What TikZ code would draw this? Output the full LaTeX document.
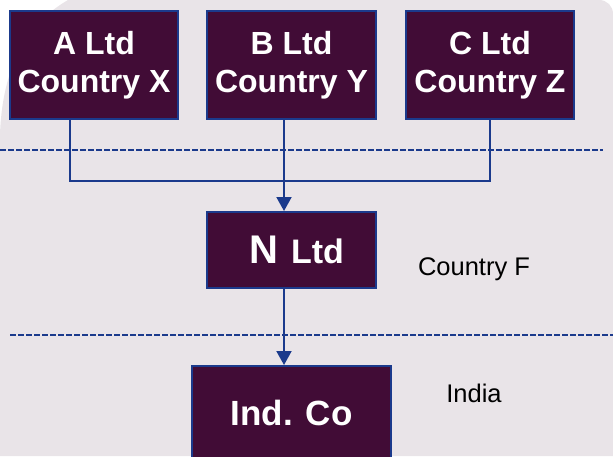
\documentclass[tikz,border=0pt]{standalone}
\usepackage{fontspec}
\setmainfont{Liberation Sans}
\usetikzlibrary{arrows.meta}
\definecolor{pagebg}{HTML}{E9E4E8}
\definecolor{boxfill}{HTML}{410C36}
\definecolor{linkblue}{HTML}{1B3A8C}
\begin{document}
\begin{tikzpicture}[x=1pt,y=-1pt,
  entity/.style={draw=linkblue, line width=2pt, fill=boxfill, text=white,
    font=\bfseries\fontsize{32}{38}\selectfont, align=center, inner sep=0pt,
    minimum width=168pt, minimum height=108pt},
  link/.style={draw=linkblue, line width=2pt},
  feed/.style={link, -{Triangle[length=14pt,width=15pt]}},
  border/.style={draw=linkblue, line width=1.6pt, dash pattern=on 5.5pt off 2.5pt},
  region/.style={font=\fontsize{25.5}{30}\selectfont, text=black, inner sep=0pt}
]
\useasboundingbox (0,0) rectangle (613,456);
% page and the rounded panel behind the chart
\fill[white] (0,0) rectangle (613,456);
\fill[pagebg] (68,0) -- (599,0) .. controls (607,0) and (613,6) .. (613,14)
  -- (613,456) -- (0,456) -- (0,135) .. controls (2,70) and (25,25) .. (68,0) -- cycle;

% jurisdiction separators
\draw[border] (0,150) -- (603,150);
\draw[border] (10,335) -- (613,335);

% shareholders
\node[entity] (A) at (94,65) {A Ltd\\Country X};
\node[entity, minimum width=169pt] (B) at (291.5,65) {B Ltd\\Country Y};
\node[entity] (C) at (490,65) {C Ltd\\Country Z};

% intermediate holding company
\node[entity, minimum width=169pt, minimum height=76pt,
  font=\bfseries\fontsize{34}{40}\selectfont] (N) at (291.5,250)
  {\kern10pt{\fontsize{40}{44}\selectfont N}\kern13pt Ltd};

% Indian company
\node[entity, minimum width=199pt, minimum height=94pt,
  font=\bfseries\fontsize{35}{40}\selectfont] (Ind) at (291.5,413) {Ind. Co};

% region labels
\node[region] (cf) at (474,269) {Country F};
\node[region] (in) at (474,393) {India};

% connectors
\coordinate (spine) at (284,0);
\coordinate (ajoin) at (70,181);
\coordinate (cjoin) at (490,181);
\draw[link] (A.south -| ajoin) -- (ajoin) -- (cjoin) -- (C.south);
\draw[feed] (B.south -| spine) -- (N.north -| spine);
\draw[feed] (N.south -| spine) -- (Ind.north -| spine);
\end{tikzpicture}
\end{document}
